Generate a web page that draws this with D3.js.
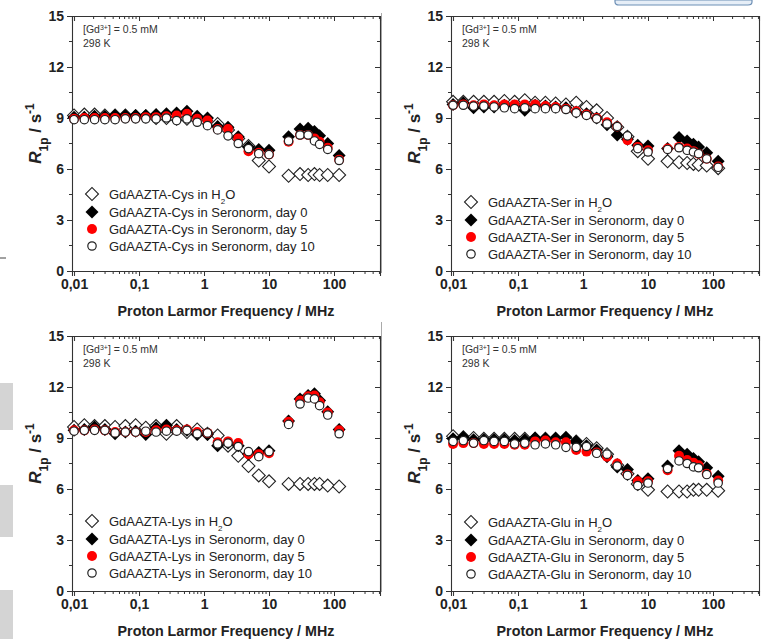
<!DOCTYPE html>
<html>
<head>
<meta charset="utf-8">
<script src="https://cdn.jsdelivr.net/npm/d3@7"></script>
<style>
  html, body { margin: 0; padding: 0; background: #fff; }
  svg { display: block; font-family: "Liberation Sans", Arial, sans-serif; }
</style>
</head>
<body>
<svg id="chart" width="767" height="639"></svg>
<script>
// proton Larmor frequencies (MHz), FFC part then fixed-field part
const freqs = [0.01, 0.0144, 0.0207, 0.0298, 0.0428, 0.0616, 0.0886, 0.127, 0.183, 0.264,
               0.379, 0.546, 0.785, 1.13, 1.62, 2.34, 3.36, 4.83, 6.95, 10,
               20, 30, 40, 50, 60, 80, 120];

const compounds = ['Cys', 'Ser', 'Lys', 'Glu'];
const xTicks = [0.01, 0.1, 1, 10, 100];
const xTickLabels = ['0,01', '0,1', '1', '10', '100'];
const yTicks = [0, 3, 6, 9, 12, 15];

// R1p values (s^-1)
const cysH2O  = [9.15, 9.2, 9.2, 9.15, 9.15, 9.15, 9.1, 9.1, 9.0, 9.0, 8.95, 8.95, 8.9, 8.75, 8.65, 8.3, 7.8, 7.35, 6.5, 6.15, 5.6, 5.7, 5.65, 5.7, 5.65, 5.65, 5.65];
const cysDay0 = [9.05, 9.05, 9.1, 9.1, 9.15, 9.15, 9.15, 9.15, 9.2, 9.25, 9.3, 9.4, 9.1, 9.0, 8.5, 8.45, 7.9, 7.3, 7.15, 7.1, 7.9, 8.35, 8.4, 8.2, 7.95, 7.5, 6.8];
const cysDay5 = [8.95, 9.0, 9.0, 9.0, 9.0, 9.0, 9.0, 9.05, 9.05, 9.1, 9.15, 9.25, 8.95, 8.85, 8.35, 8.35, 7.8, 7.05, 6.95, 6.85, 7.6, 8.0, 8.0, 7.8, 7.6, 7.25, 6.55];
const cysDay10 = [8.9, 8.9, 8.9, 8.9, 8.9, 8.95, 8.95, 8.95, 8.95, 9.0, 8.85, 8.95, 8.75, 8.55, 8.3, 7.95, 7.5, 7.2, 6.9, 6.85, 7.65, 8.0, 8.0, 7.65, 7.45, 7.15, 6.5];

const serH2O  = [9.95, 9.95, 9.95, 9.95, 9.95, 10.0, 9.95, 10.05, 9.9, 9.9, 9.85, 9.8, 9.9, 9.65, 9.45, 9.0, 8.45, 7.9, 7.05, 6.6, 6.45, 6.4, 6.35, 6.3, 6.25, 6.2, 6.05];
const serDay0 = [9.8, 9.9, 9.6, 9.65, 9.65, 9.75, 9.7, 9.45, 9.75, 9.7, 9.65, 9.6, 9.35, 9.25, 9.0, 8.6, 8.0, 7.75, 7.4, 7.35, 7.2, 7.85, 7.65, 7.45, 7.3, 6.95, 6.45];
const serDay5 = [9.75, 9.8, 9.75, 9.8, 9.75, 9.8, 9.8, 9.8, 9.8, 9.7, 9.65, 9.55, 9.4, 9.2, 9.0, 8.75, 8.5, 7.7, 7.3, 7.1, 7.2, 7.3, 7.2, 7.05, 6.9, 6.6, 6.15];
const serDay10 = [9.75, 9.75, 9.7, 9.7, 9.65, 9.6, 9.55, 9.6, 9.55, 9.55, 9.55, 9.5, 9.3, 9.15, 8.95, 8.65, 8.5, 7.95, 7.2, 7.0, 7.15, 7.25, 7.1, 7.0, 6.9, 6.6, 6.1];

const lysH2O  = [9.65, 9.75, 9.7, 9.7, 9.65, 9.7, 9.75, 9.6, 9.7, 9.25, 9.7, 9.35, 9.5, 9.25, 9.15, 8.55, 7.95, 7.35, 6.8, 6.45, 6.3, 6.3, 6.3, 6.3, 6.3, 6.2, 6.15];
const lysDay0 = [9.45, 9.5, 9.65, 9.5, 9.25, 9.35, 9.4, 9.2, 9.6, 9.75, 9.5, 9.45, 9.2, 9.2, 8.55, 8.7, 8.55, 8.05, 8.15, 8.25, 10.0, 11.3, 11.5, 11.6, 11.2, 10.55, 9.5];
const lysDay5 = [9.45, 9.45, 9.5, 9.45, 9.35, 9.35, 9.35, 9.35, 9.45, 9.5, 9.45, 9.5, 9.35, 9.3, 8.75, 8.8, 8.7, 8.05, 8.05, 8.1, 9.95, 11.2, 11.45, 11.5, 11.1, 10.5, 9.45];
const lysDay10 = [9.4, 9.45, 9.45, 9.45, 9.3, 9.35, 9.35, 9.4, 9.35, 9.4, 9.4, 9.45, 9.25, 9.3, 8.65, 8.7, 8.5, 8.2, 7.9, 8.2, 9.8, 11.0, 11.35, 11.3, 10.9, 10.35, 9.25];

const gluH2O  = [9.1, 9.05, 9.0, 8.95, 8.95, 8.95, 8.95, 8.95, 8.95, 8.95, 8.9, 8.9, 8.8, 8.65, 8.4, 8.05, 7.4, 6.9, 6.3, 5.95, 5.85, 5.85, 5.85, 5.95, 5.95, 5.95, 5.9];
const gluDay0 = [8.95, 9.05, 8.9, 8.9, 8.9, 8.9, 8.85, 8.9, 9.0, 8.95, 9.0, 9.05, 8.8, 8.55, 8.3, 7.9, 7.3, 7.15, 6.5, 6.6, 7.35, 8.25, 8.05, 7.8, 7.6, 7.25, 6.75];
const gluDay5 = [8.65, 8.7, 8.7, 8.65, 8.65, 8.65, 8.6, 8.6, 8.8, 8.85, 8.75, 8.75, 8.3, 8.2, 8.15, 7.9, 7.5, 6.85, 6.45, 6.45, 7.1, 7.95, 7.7, 7.55, 7.4, 6.9, 6.5];
const gluDay10 = [8.8, 8.85, 8.7, 8.85, 8.8, 8.8, 8.65, 8.7, 8.6, 8.65, 8.6, 8.45, 8.45, 8.5, 8.1, 8.05, 7.35, 6.8, 6.2, 6.35, 7.2, 7.65, 7.5, 7.3, 7.25, 6.85, 6.35];

const seriesByCompound = {
    Cys: [cysH2O, cysDay0, cysDay5, cysDay10],
    Ser: [serH2O, serDay0, serDay5, serDay10],
    Lys: [lysH2O, lysDay0, lysDay5, lysDay10],
    Glu: [gluH2O, gluDay0, gluDay5, gluDay10]
};

// panel placement
const W = 308, H = 255;
const panels = [
    {c:'Cys', left:72,  top:16,  legDy:-8},
    {c:'Ser', left:451, top:16,  legDy:0},
    {c:'Lys', left:72,  top:336, legDy:-1},
    {c:'Glu', left:451, top:336, legDy:0}
];

const svg = d3.select('#chart');
const AX = '#333';

// stray bits of the page around the figure
svg.append('path')
    .attr('d', 'M615,0 L615,2 Q615,5 619,5 L748,5 Q752,5 752,2 L752,0 Z')
    .attr('fill', '#e6eef7').attr('stroke', '#6d8fb5').attr('stroke-width', 1.2);
[[383,430],[485,537],[590,639]].forEach(([a,b]) =>
    svg.append('rect').attr('x',0).attr('y',a).attr('width',13).attr('height',b-a).attr('fill','#d4d4d4'));
svg.append('line').attr('x1',0).attr('x2',6).attr('y1',258).attr('y2',258).attr('stroke','#444');
svg.append('line').attr('x1',381.5).attr('x2',381.5).attr('y1',13).attr('y2',273).attr('stroke','#aaa');
svg.append('line').attr('x1',381.5).attr('x2',381.5).attr('y1',322).attr('y2',592).attr('stroke','#aaa');

const x = d3.scaleLog().domain([0.0093, 510]).range([0, W]);
const y = d3.scaleLinear().domain([0, 15]).range([H, 0]);

const minorX = [];
[0.01, 0.1, 1, 10, 100].forEach(d => { for (let k = 2; k <= 9; k++) if (d*k < 510) minorX.push(d*k); });
const minorY = [1.5, 4.5, 7.5, 10.5, 13.5];

function subText(sel, parts) {
    // parts: [text, kind, size] where kind: '', 'sub', 'sup', 'it'
    parts.forEach(([t, kind, fs]) => {
        const ts = sel.append('tspan').text(t);
        if (kind === 'it') ts.style('font-style', 'italic');
        if (kind === 'sub') ts.attr('baseline-shift', 'sub').style('font-size', fs);
        if (kind === 'sup') ts.attr('baseline-shift', 'super').style('font-size', fs);
    });
}

panels.forEach(p => {
    const g = svg.append('g').attr('transform', `translate(${p.left},${p.top})`);
    const data = seriesByCompound[p.c];

    // axes: bottom/left ticks out, top/right ticks in
    const bottom = g.append('g').attr('transform', `translate(0,${H})`)
        .call(d3.axisBottom(x).tickValues(xTicks).tickFormat((d,i) => xTickLabels[i]).tickSize(5).tickPadding(3));
    bottom.append('g').selectAll('line').data(minorX).join('line')
        .attr('x1', d => x(d)).attr('x2', d => x(d)).attr('y1', 0).attr('y2', 3);
    const top = g.append('g')
        .call(d3.axisTop(x).tickValues(xTicks).tickFormat('').tickSize(-5));
    top.append('g').selectAll('line').data(minorX).join('line')
        .attr('x1', d => x(d)).attr('x2', d => x(d)).attr('y1', 0).attr('y2', 3);

    const left = g.append('g')
        .call(d3.axisLeft(y).tickValues(yTicks).tickFormat(d3.format('d')).tickSize(5).tickPadding(3));
    left.append('g').selectAll('line').data(minorY).join('line')
        .attr('y1', d => y(d)).attr('y2', d => y(d)).attr('x1', 0).attr('x2', -3);
    const right = g.append('g').attr('transform', `translate(${W},0)`)
        .call(d3.axisRight(y).tickValues(yTicks).tickFormat('').tickSize(-5));
    right.append('g').selectAll('line').data(minorY).join('line')
        .attr('y1', d => y(d)).attr('y2', d => y(d)).attr('x1', 0).attr('x2', -3);

    g.selectAll('.domain').attr('stroke', AX).attr('stroke-width', 1.1);
    g.selectAll('.tick line').attr('stroke', AX);
    g.selectAll('g > g > line').attr('stroke', AX);
    g.selectAll('.tick text').attr('fill', '#222').style('font-size', '14px').style('font-weight', 'bold');

    // annotation
    const ann = g.append('text').attr('x', 11).attr('y', 17).attr('fill', '#333').style('font-size', '10.5px');
    subText(ann, [['[Gd', ''], ['3+', 'sup', '7px'], ['] = 0.5 mM', '']]);
    g.append('text').attr('x', 11).attr('y', 31).attr('fill', '#333').style('font-size', '10.5px').text('298 K');

    // markers
    const diamond = d3.symbol().type(d3.symbolSquare).size(84);
    const pts = arr => arr.map((v, i) => ({f: freqs[i], v}));

    g.append('g').selectAll('path').data(pts(data[0])).join('path')
        .attr('d', diamond)
        .attr('transform', d => `translate(${x(d.f)},${y(d.v)}) rotate(45)`)
        .attr('fill', '#fff').attr('stroke', '#222').attr('stroke-width', 1.1);
    g.append('g').selectAll('path').data(pts(data[1])).join('path')
        .attr('d', diamond)
        .attr('transform', d => `translate(${x(d.f)},${y(d.v)}) rotate(45)`)
        .attr('fill', '#000');
    g.append('g').selectAll('circle').data(pts(data[2])).join('circle')
        .attr('cx', d => x(d.f)).attr('cy', d => y(d.v)).attr('r', 5)
        .attr('fill', '#f00');
    g.append('g').selectAll('circle').data(pts(data[3])).join('circle')
        .attr('cx', d => x(d.f)).attr('cy', d => y(d.v)).attr('r', 4.2)
        .attr('fill', '#fff').attr('stroke', '#222').attr('stroke-width', 1.2);

    // legend
    const lg = g.append('g').attr('transform', `translate(0,${p.legDy})`);
    const rows = [186, 204, 221, 238];
    const lx = 20, tx = 37;
    lg.append('path').attr('d', diamond).attr('transform', `translate(${lx},${rows[0]}) rotate(45)`)
        .attr('fill', '#fff').attr('stroke', '#222').attr('stroke-width', 1.1);
    lg.append('path').attr('d', diamond).attr('transform', `translate(${lx},${rows[1]}) rotate(45)`)
        .attr('fill', '#000');
    lg.append('circle').attr('cx', lx).attr('cy', rows[2]).attr('r', 5).attr('fill', '#f00');
    lg.append('circle').attr('cx', lx).attr('cy', rows[3]).attr('r', 4.2)
        .attr('fill', '#fff').attr('stroke', '#222').attr('stroke-width', 1.2);

    const name = `GdAAZTA-${p.c}`;
    const t0 = lg.append('text').attr('x', tx).attr('y', rows[0] + 4.5);
    subText(t0, [[`${name} in H`, ''], ['2', 'sub', '8px'], ['O', '']]);
    ['day 0', 'day 5', 'day 10'].forEach((dname, i) => {
        lg.append('text').attr('x', tx).attr('y', rows[i+1] + 4.5).text(`${name} in Seronorm, ${dname}`);
    });
    lg.selectAll('text').attr('fill', '#222').style('font-size', '13px');

    // axis titles
    g.append('text').attr('x', W/2).attr('y', H + 45).attr('text-anchor', 'middle')
        .attr('fill', '#222').style('font-size', '14.3px').style('font-weight', 'bold')
        .text('Proton Larmor Frequency / MHz');

    const yt = g.append('text')
        .attr('transform', `translate(-31,${H/2 - 10}) rotate(-90)`)
        .attr('text-anchor', 'middle').attr('fill', '#222')
        .style('font-size', '17px').style('font-weight', 'bold');
    subText(yt, [['R', 'it'], ['1p', 'sub', '12px'], [' / s', ''], ['-1', 'sup', '12px']]);
});
</script>
</body>
</html>
